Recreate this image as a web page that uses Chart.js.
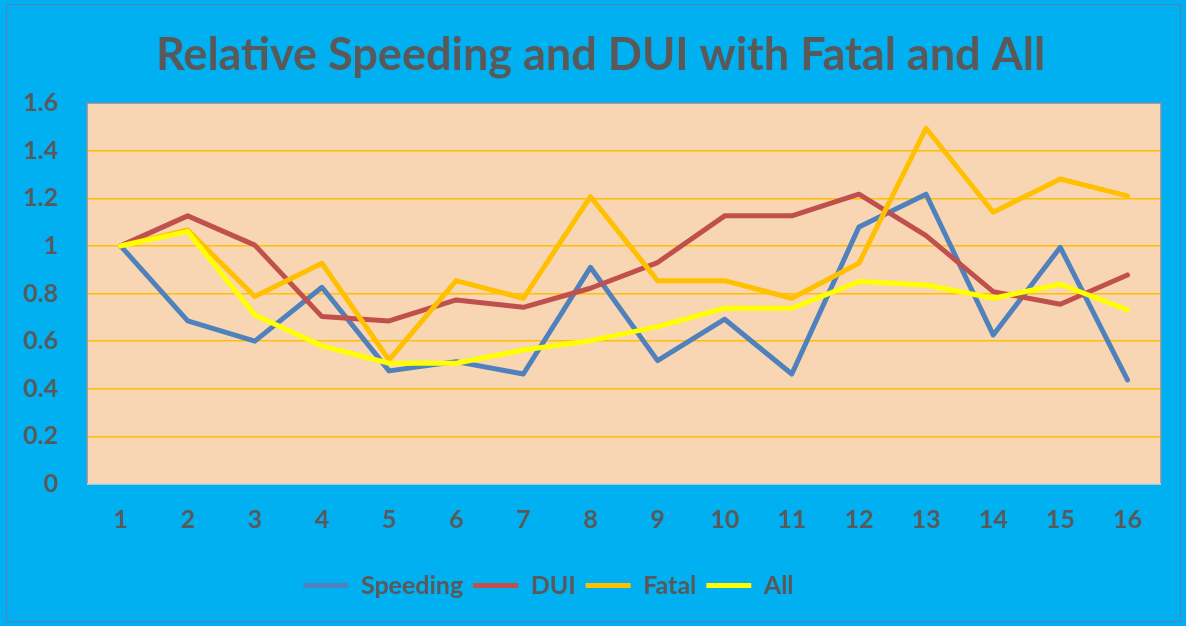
<!DOCTYPE html>
<html>
<head>
<meta charset="utf-8">
<script src="https://cdn.jsdelivr.net/npm/chart.js@4/dist/chart.umd.min.js"></script>
<style>
  html, body { margin: 0; padding: 0; background: #00B0F0; }
  #wrap { width: 1186px; height: 626px; position: relative; }
</style>
</head>
<body>
<div id="wrap"><canvas id="c" width="1186" height="626"></canvas></div>
<script>
const categories = ['1','2','3','4','5','6','7','8','9','10','11','12','13','14','15','16'];
const speeding = [1.0, 0.685, 0.60, 0.826, 0.475, 0.514, 0.462, 0.91, 0.518, 0.692, 0.462, 1.079, 1.217, 0.626, 0.994, 0.437];
const dui      = [1.0, 1.126, 1.003, 0.703, 0.685, 0.773, 0.742, 0.822, 0.93, 1.126, 1.126, 1.217, 1.043, 0.808, 0.755, 0.878];
const fatal    = [1.0, 1.067, 0.787, 0.927, 0.521, 0.854, 0.78, 1.207, 0.854, 0.854, 0.78, 0.927, 1.494, 1.141, 1.281, 1.21];
const all      = [1.0, 1.06, 0.71, 0.58, 0.507, 0.507, 0.563, 0.602, 0.661, 0.738, 0.738, 0.85, 0.836, 0.78, 0.839, 0.731];
const yTickLabels = ['0','0.2','0.4','0.6','0.8','1','1.2','1.4','1.6'];

const FONT = 'Lato, "Open Sans", sans-serif';
const TEXT = '#595959';

const bgPlugin = {
  id: 'bg',
  beforeDraw(chart) {
    const ctx = chart.ctx;
    if (chart.legend && !chart.legend._shifted) {
      chart.legend.left -= 32;
      chart.legend.right -= 32;
      chart.legend._shifted = true;
    }
    if (chart.titleBlock && !chart.titleBlock._shifted) {
      chart.titleBlock.left += 20;
      chart.titleBlock.right += 20;
      chart.titleBlock._shifted = true;
    }
    ctx.save();
    ctx.fillStyle = '#00B0F0';
    ctx.fillRect(0, 0, chart.width, chart.height);
    ctx.strokeStyle = '#5B7FB5';
    ctx.lineWidth = 1;
    ctx.strokeRect(6.5, 4.5, 1174, 617);
    const a = chart.chartArea;
    ctx.fillStyle = '#F8D5B3';
    ctx.fillRect(a.left, a.top, a.right - a.left, a.bottom - a.top);
    ctx.restore();
  },
  afterDatasetsDraw(chart) {
    const ctx = chart.ctx;
    const a = chart.chartArea;
    ctx.save();
    ctx.lineWidth = 1.5;
    ctx.strokeStyle = '#7A8FB3';
    ctx.beginPath();
    ctx.moveTo(a.left, a.bottom);
    ctx.lineTo(a.left, a.top);
    ctx.lineTo(a.right, a.top);
    ctx.lineTo(a.right, a.bottom);
    ctx.stroke();
    ctx.strokeStyle = '#D4D4D4';
    ctx.beginPath();
    ctx.moveTo(a.left, a.bottom);
    ctx.lineTo(a.right, a.bottom);
    ctx.stroke();
    ctx.restore();
  }
};

function ds(label, data, color, order) {
  return {
    label, data, borderColor: color, backgroundColor: color,
    borderWidth: 5, pointRadius: 0, pointHoverRadius: 0, tension: 0,
    borderCapStyle: 'round', borderJoinStyle: 'round', fill: false, order
  };
}

new Chart(document.getElementById('c'), {
  type: 'line',
  data: {
    labels: categories,
    datasets: [
      ds('Speeding', speeding, '#4F81BD', 4),
      ds('DUI', dui, '#C0504D', 3),
      ds('Fatal', fatal, '#FFC000', 2),
      ds('All', all, '#FFFF00', 1)
    ]
  },
  options: {
    responsive: false,
    animation: false,
    devicePixelRatio: 1,
    layout: { padding: { left: 0, right: 25, top: 0, bottom: 18 } },
    plugins: {
      tooltip: { enabled: false },
      title: {
        display: true,
        text: 'Relative Speeding and DUI with Fatal and All',
        color: TEXT,
        font: { family: FONT, size: 45, weight: 'bold', lineHeight: 1.2 },
        padding: { top: 28, bottom: 21 }
      },
      legend: {
        position: 'bottom',
        labels: {
          sort: (a, b) => a.datasetIndex - b.datasetIndex,
          color: TEXT,
          font: { family: FONT, size: 25, weight: 'bold' },
          usePointStyle: true,
          pointStyle: 'line',
          pointStyleWidth: 45,
          boxHeight: 25,
          padding: 10
        }
      }
    },
    scales: {
      x: {
        offset: true,
        grid: { display: false, drawTicks: false },
        border: { display: false },
        ticks: { color: TEXT, font: { family: FONT, size: 25, weight: 'bold' }, padding: 21, maxRotation: 0 },
        afterFit(scale) { scale.height = 79; }
      },
      y: {
        min: 0, max: 1.6,
        grid: {
          drawTicks: false,
          lineWidth: 1.5,
          color: (c) => (c.tick && (c.tick.value === 0 || Math.abs(c.tick.value - 1.6) < 1e-6)) ? 'rgba(0,0,0,0)' : '#FFC000'
        },
        border: { display: false },
        ticks: {
          stepSize: 0.2,
          padding: 29,
          color: TEXT,
          font: { family: FONT, size: 25, weight: 'bold' },
          callback: (v, i) => yTickLabels[i]
        },
        afterFit(scale) { scale.width = 87; }
      }
    }
  },
  plugins: [bgPlugin]
});
</script>
</body>
</html>
